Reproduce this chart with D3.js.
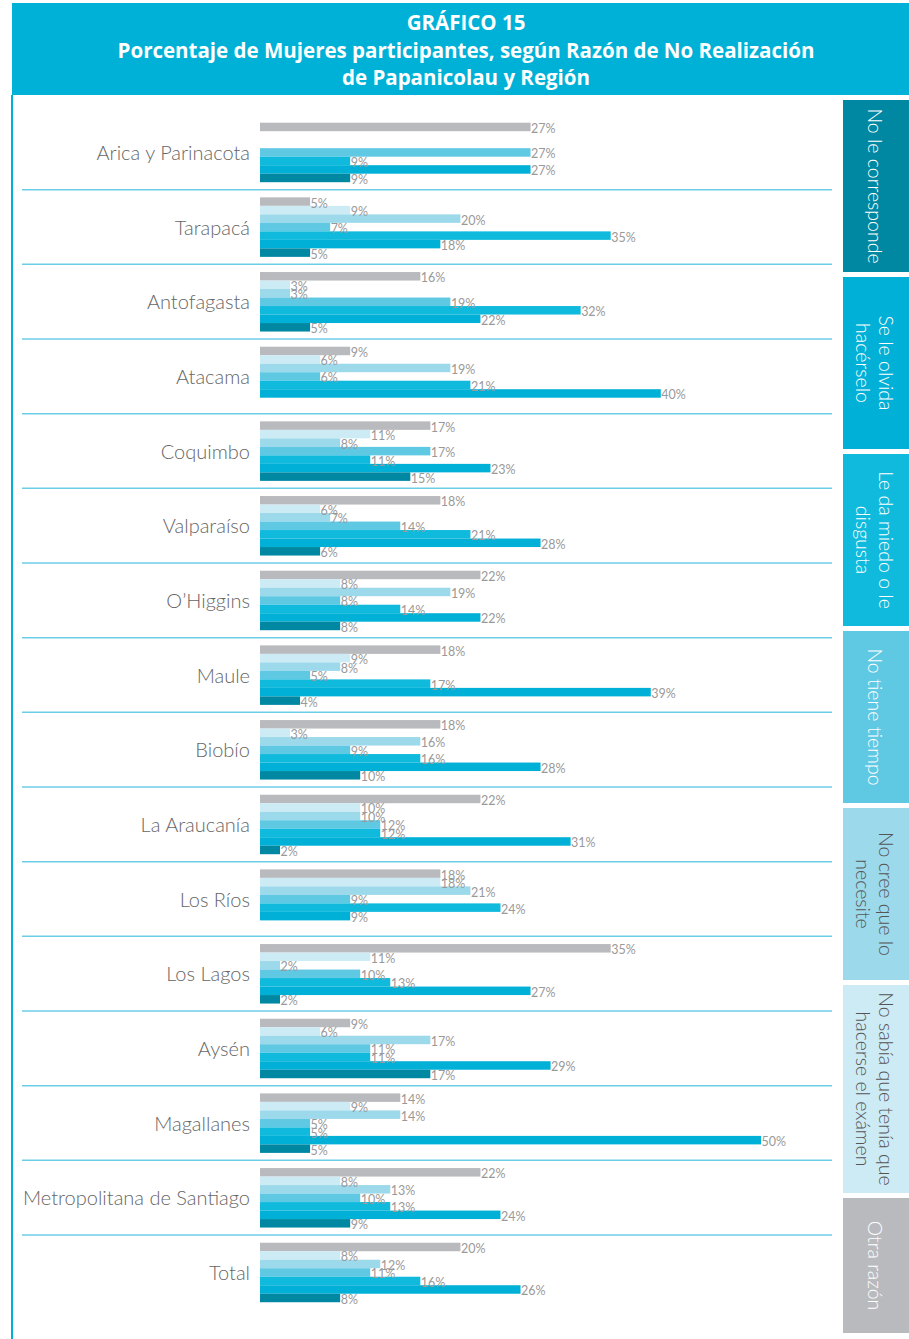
<!DOCTYPE html>
<html lang="es">
<head>
<meta charset="utf-8">
<script src="https://cdn.jsdelivr.net/npm/d3@7"></script>
<style>
  html, body { margin: 0; padding: 0; background: #fff; }
  svg { display: block; }
</style>
</head>
<body>
<svg id="chart" width="909" height="1339"></svg>
<script>
// Regions, top to bottom
const regions = [
  "Arica y Parinacota", "Tarapacá", "Antofagasta", "Atacama", "Coquimbo",
  "Valparaíso", "O’Higgins", "Maule", "Biobío", "La Araucanía", "Los Ríos",
  "Los Lagos", "Aysén", "Magallanes", "Metropolitana de Santiago", "Total"
];

// Reasons (series), in the order the bars are stacked inside each region
const reasons = [
  "Otra razón",
  "No sabía que tenía que hacerse el exámen",
  "No cree que lo necesite",
  "No tiene tiempo",
  "Le da miedo o le disgusta",
  "Se le olvida hacérselo",
  "No le corresponde"
];

// Percentages per reason, one value per region (0 = no bar)
const otraRazon      = [27,  5, 16,  9, 17, 18, 22, 18, 18, 22, 18, 35,  9, 14, 22, 20];
const noSabia        = [ 0,  9,  3,  6, 11,  6,  8,  9,  3, 10, 18, 11,  6,  9,  8,  8];
const noCree         = [ 0, 20,  3, 19,  8,  7, 19,  8, 16, 10, 21,  2, 17, 14, 13, 12];
const noTieneTiempo  = [27,  7, 19,  6, 17, 14,  8,  5,  9, 12,  9, 10, 11,  5, 10, 11];
const leDaMiedo      = [ 9, 35, 32, 21, 11, 21, 14, 17, 16, 12, 24, 13, 11,  5, 13, 16];
const seLeOlvida     = [27, 18, 22, 40, 23, 28, 22, 39, 28, 31,  9, 27, 29, 50, 24, 26];
const noLeCorresponde= [ 9,  5,  5,  0, 15,  6,  8,  4, 10,  2,  0,  2, 17,  5,  9,  8];

const seriesValues = [otraRazon, noSabia, noCree, noTieneTiempo, leDaMiedo, seLeOlvida, noLeCorresponde];

const colors = ["#b9babe", "#cdebf5", "#9cd9eb", "#5fc8e3", "#0fbadd", "#00b0d6", "#0088a3"];

// Legend entries (top to bottom) with their line breaks
const legendLines = [
  ["No le corresponde"],
  ["Se le olvida", "hacérselo"],
  ["Le da miedo o le", "disgusta"],
  ["No tiene tiempo"],
  ["No cree que lo", "necesite"],
  ["No sabía que tenía que", "hacerse el exámen"],
  ["Otra razón"]
];
const legendOrder = reasons.slice().reverse();
const legendText = ["#fff", "#fff", "#fff", "#fff", "#555", "#555", "#fff"];

const titleLines = [
  "GRÁFICO 15",
  "Porcentaje de Mujeres participantes, según Razón de No Realización",
  "de Papanicolau y Región"
];

const svg = d3.select("#chart");
const TEAL = "#00b1d7";

// Title banner
svg.append("rect").attr("x", 12).attr("y", 3).attr("width", 897).attr("height", 92).attr("fill", TEAL);
svg.append("g").selectAll("text").data(titleLines).join("text")
  .attr("x", 466)
  .attr("y", (d, i) => 22 + i * 27.5)
  .attr("text-anchor", "middle")
  .attr("dominant-baseline", "central")
  .attr("fill", "#fff")
  .attr("font-family", "'Open Sans', Lato, sans-serif")
  .attr("font-weight", 700)
  .attr("font-size", 20.5)
  .text(d => d);

// Left frame line
svg.append("line").attr("x1", 12).attr("x2", 12).attr("y1", 95).attr("y2", 1339)
  .attr("stroke", TEAL).attr("stroke-width", 2);

// Scales
const y0 = d3.scaleBand().domain(regions).range([115, 1309.7]);
const y1 = d3.scaleBand().domain(reasons).range([7.7, 67.2]);
const x = d3.scaleLinear().domain([0, 50]).range([260, 761]);

// Separators between regions
svg.append("g").selectAll("line").data(regions.slice(1)).join("line")
  .attr("x1", 22).attr("x2", 832)
  .attr("y1", d => y0(d)).attr("y2", d => y0(d))
  .attr("stroke", "#6ccde6").attr("stroke-width", 1.5);

// Region labels
svg.append("g").selectAll("text").data(regions).join("text")
  .attr("x", 250)
  .attr("y", d => y0(d) + 37)
  .attr("text-anchor", "end")
  .attr("dominant-baseline", "central")
  .attr("fill", "#666")
  .attr("font-family", "Lato, 'Open Sans', sans-serif")
  .attr("font-weight", 300)
  .attr("font-size", 20)
  .text(d => d);

// Bars and value labels
const cells = [];
regions.forEach((r, ri) => {
  reasons.forEach((s, si) => {
    const v = seriesValues[si][ri];
    if (v > 0) cells.push({ region: r, reason: s, value: v, color: colors[si] });
  });
});

const groups = svg.append("g");
groups.selectAll("rect").data(cells).join("rect")
  .attr("x", x(0))
  .attr("y", d => y0(d.region) + y1(d.reason))
  .attr("width", d => x(d.value) - x(0))
  .attr("height", y1.bandwidth())
  .attr("fill", d => d.color);

groups.selectAll("text").data(cells).join("text")
  .attr("x", d => x(d.value) + 0.5)
  .attr("y", d => y0(d.region) + y1(d.reason) + y1.bandwidth() / 2 + 1.5)
  .attr("dominant-baseline", "central")
  .attr("fill", "#999")
  .attr("font-family", "Lato, 'Open Sans', sans-serif")
  .attr("font-size", 12.5)
  .text(d => d.value + "%");

// Legend boxes on the right (the last two boxes share their space unevenly)
const boxHeights = [172, 172, 172, 172, 172, 208, 135];
const boxGap = 5;
const boxTop = [];
boxHeights.reduce((acc, h) => { boxTop.push(acc); return acc + h + boxGap; }, 100);

const leg = svg.append("g").selectAll("g").data(legendOrder).join("g");
leg.append("rect")
  .attr("x", 843).attr("width", 66)
  .attr("y", (d, i) => boxTop[i]).attr("height", (d, i) => boxHeights[i])
  .attr("fill", d => colors[reasons.indexOf(d)]);
leg.each(function (d, i) {
  const cx = 875, cy = boxTop[i] + boxHeights[i] / 2;
  const lines = legendLines[i];
  const t = d3.select(this).append("text")
    .attr("transform", `translate(${cx},${cy}) rotate(90)`)
    .attr("text-anchor", "middle")
    .attr("fill", legendText[i])
    .attr("font-family", "Lato, 'Open Sans', sans-serif")
    .attr("font-weight", 300)
    .attr("font-size", 19.5);
  lines.forEach((ln, k) => {
    t.append("tspan")
      .attr("x", 0)
      .attr("y", (k - (lines.length - 1) / 2) * 23)
      .attr("dominant-baseline", "central")
      .text(ln);
  });
});
</script>
</body>
</html>
